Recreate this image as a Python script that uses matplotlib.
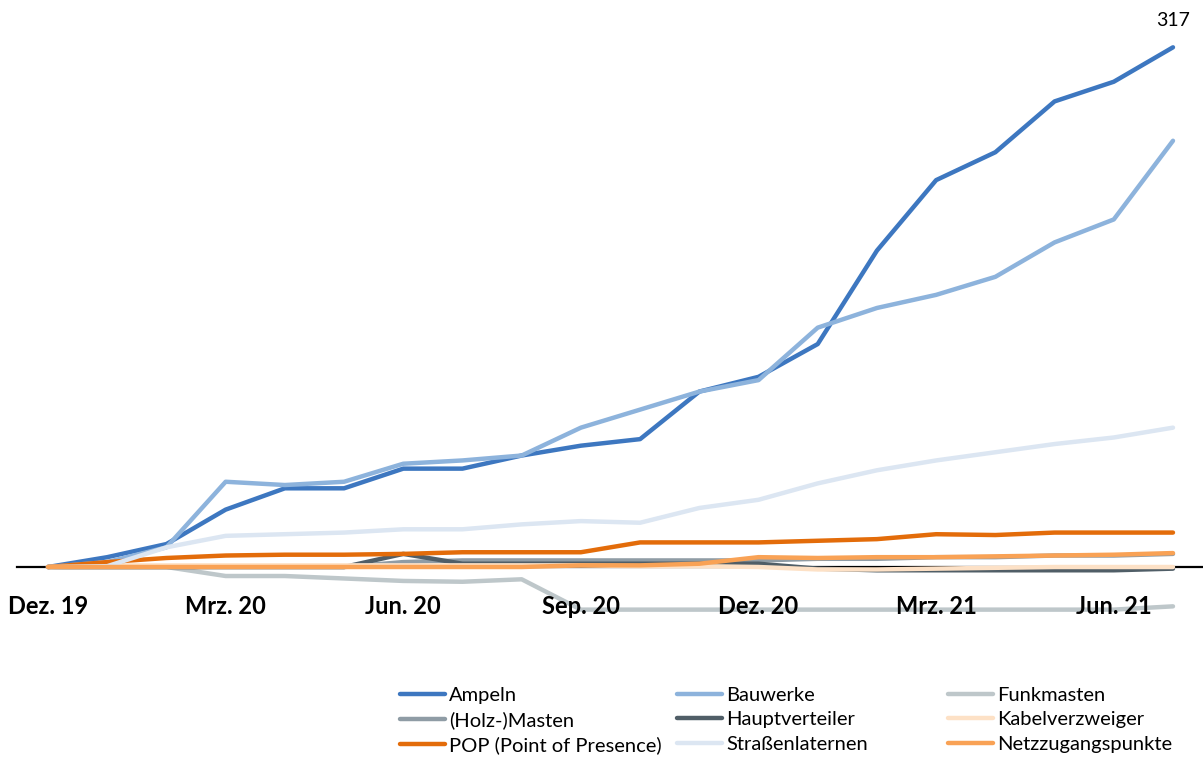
import matplotlib.pyplot as plt

# monthly values, Dez. 19 .. Jul. 21
months = ['Dez. 19', 'Jan. 20', 'Feb. 20', 'Mrz. 20', 'Apr. 20', 'Mai. 20', 'Jun. 20',
          'Jul. 20', 'Aug. 20', 'Sep. 20', 'Okt. 20', 'Nov. 20', 'Dez. 20', 'Jan. 21',
          'Feb. 21', 'Mrz. 21', 'Apr. 21', 'Mai. 21', 'Jun. 21', 'Jul. 21']
tick_labels = ['Dez. 19', 'Mrz. 20', 'Jun. 20', 'Sep. 20', 'Dez. 20', 'Mrz. 21', 'Jun. 21']

ampeln = [0, 6, 14, 35, 48, 48, 60, 60, 68, 74, 78, 107, 116, 136, 193, 236, 253, 284, 296, 317]
bauwerke = [0, 3, 12, 52, 50, 52, 63, 65, 68, 85, 96, 107, 114, 146, 158, 166, 177, 198, 212, 260]
funkmasten = [0, 0, 0, -5.5, -5.5, -7, -8.5, -9, -7.5, -26, -26, -26, -26, -26, -26, -26, -26, -26, -26, -24]
holzmasten = [0, 0, 0, 0, 0, 0, 3, 4, 4, 4, 4, 4, 4, 5, 5, 6, 6, 7, 7, 8]
hauptverteiler = [0, 0, 0, 0, 0, 0, 8, 2, 2, 2, 2, 2, 2, -1, -2, -2, -2, -2, -2, -1]
kabelverzweiger = [0, 1, 1, 1, 1, 1, 1, 1, 1, 1, 0.5, 0.5, 0, -1.5, -1.5, -1, -0.5, 0, 0, 0]
pop = [0, 3, 5.5, 7, 7.5, 7.5, 8, 9, 9, 9, 15, 15, 15, 16, 17, 20, 19.5, 21, 21, 21]
laternen = [0, 0.5, 12, 19, 20, 21, 23, 23, 26, 28, 27, 36, 41, 51, 59, 65, 70, 75, 79, 85]
netzzugang = [0, 0, 0, 0, 0, 0, 0, 0, 0, 1, 1, 2, 6, 5.5, 6, 6, 6.5, 7, 7.5, 8.5]

series = [
    ('Ampeln', ampeln, '#3d77c0'),
    ('Bauwerke', bauwerke, '#8db3dc'),
    ('Funkmasten', funkmasten, '#bec7ca'),
    ('(Holz-)Masten', holzmasten, '#8f9ca5'),
    ('Hauptverteiler', hauptverteiler, '#505e67'),
    ('Kabelverzweiger', kabelverzweiger, '#fde1c6'),
    ('POP (Point of Presence)', pop, '#e36c0a'),
    ('Straßenlaternen', laternen, '#dce6f2'),
    ('Netzzugangspunkte', netzzugang, '#f9a255'),
]

plt.rcParams['font.family'] = ['Lato', 'DejaVu Sans']

fig = plt.figure(figsize=(12.03, 7.6), dpi=100)
# axes bottom sits on the zero line
ax = fig.add_axes([17 / 1203, 193 / 760, 1186 / 1203, 541 / 760])

x = list(range(len(months)))
handles = []
for name, vals, col in series:
    h, = ax.plot(x, vals, color=col, lw=3.2, zorder=3, clip_on=False,
                 solid_capstyle='round', solid_joinstyle='round', label=name)
    handles.append(h)

ax.set_xlim(-0.524, 19.507)
ax.set_ylim(0, 330)

for s in ['top', 'right', 'left']:
    ax.spines[s].set_visible(False)
ax.spines['bottom'].set_linewidth(1.6)
ax.spines['bottom'].set_color('black')
ax.set_yticks([])
ax.set_xticks([months.index(t) for t in tick_labels])
ax.set_xticklabels(tick_labels, fontsize=17, fontweight='bold')
ax.tick_params(axis='x', length=0, pad=20)
ax.xaxis.set_zorder(4)  # labels over the Funkmasten line

ax.annotate(str(ampeln[-1]), (x[-1], ampeln[-1]), xytext=(0, 13),
            textcoords='offset points', ha='center', va='bottom', fontsize=14)

# three legend columns, placed separately
col_x = [400 / 1203, 677 / 1203, 948 / 1203]
for c in range(3):
    hs = handles[c::3]
    fig.legend(handles=hs, labels=[h.get_label() for h in hs],
               loc='upper left', bbox_to_anchor=(col_x[c], 1 - 687 / 760),
               frameon=False, fontsize=14.5, handlelength=2.25,
               handletextpad=0.2, labelspacing=0.36, borderaxespad=0,
               borderpad=0)

fig.savefig('out.png', dpi=100)
